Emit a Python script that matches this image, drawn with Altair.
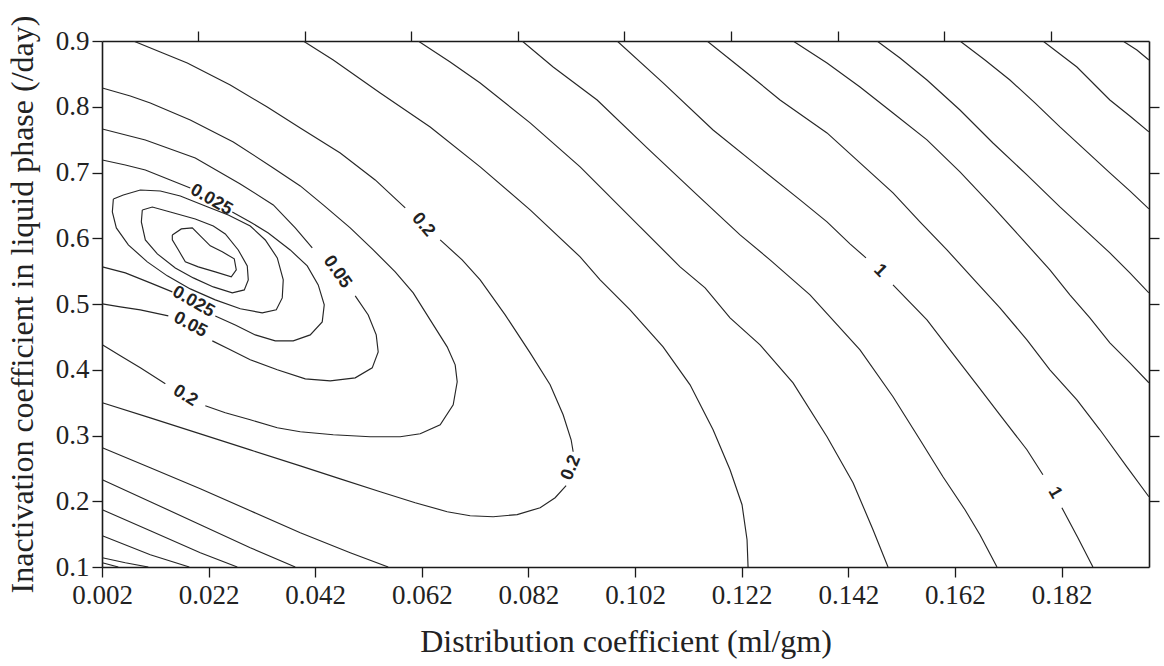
import altair as alt
import pandas as pd

# ---- contour polylines: [distribution coeff, inactivation coeff] ----
loop_1 = [[0.01519, 0.6051], [0.01688, 0.6142], [0.01894, 0.6158], [0.02063, 0.6021], [0.02231, 0.5884],
          [0.02456, 0.5793], [0.02681, 0.5687], [0.02719, 0.5519], [0.02625, 0.5413], [0.02325, 0.5489],
          [0.02006, 0.5565], [0.01763, 0.5641], [0.01631, 0.5824], [0.01519, 0.5976], [0.01519, 0.6051]]
loop_2 = [[0.00956, 0.6430], [0.01144, 0.6475], [0.01481, 0.6399], [0.0195, 0.6293], [0.02288, 0.6186],
          [0.02513, 0.6065], [0.02756, 0.5822], [0.02925, 0.5579], [0.02944, 0.5366], [0.02869, 0.5214],
          [0.02644, 0.5169], [0.02288, 0.5260], [0.01913, 0.5397], [0.01575, 0.5549], [0.01238, 0.5762],
          [0.01013, 0.5975], [0.00938, 0.6249], [0.00956, 0.6430]]
loop_3 = [[0.00413, 0.6597], [0.0060, 0.6658], [0.00919, 0.6734], [0.01294, 0.6719], [0.01669, 0.6643],
          [0.02138, 0.6491], [0.02569, 0.6354], [0.02981, 0.6187], [0.03263, 0.5974], [0.03488, 0.5701],
          [0.036, 0.5367], [0.03581, 0.5093], [0.03469, 0.4911], [0.03206, 0.4866], [0.02794, 0.4927],
          [0.02325, 0.5063], [0.01856, 0.5230], [0.01425, 0.5428], [0.0105, 0.5641], [0.00694, 0.5899],
          [0.00469, 0.6157], [0.00394, 0.6401], [0.00413, 0.6597]]

c0025_a = [[0.00206, 0.7190], [0.00638, 0.7114], [0.01013, 0.7038], [0.01481, 0.6886], [0.01856, 0.6764]]
c0025_b = [[0.02644, 0.6400], [0.02981, 0.6248], [0.03319, 0.6081], [0.03731, 0.5822], [0.0405, 0.5579],
           [0.04256, 0.5290], [0.04369, 0.4986], [0.04331, 0.4728], [0.04106, 0.4530], [0.03788, 0.4439],
           [0.0345, 0.4439], [0.03075, 0.4530], [0.027, 0.4682], [0.02325, 0.4819]]
c0025_c = [[0.01519, 0.5184], [0.01106, 0.5321], [0.00638, 0.5473], [0.00206, 0.5565]]

c005_a = [[0.00206, 0.7662], [0.01013, 0.7495], [0.0195, 0.7221], [0.02794, 0.6826], [0.03413, 0.6507],
          [0.03825, 0.6157], [0.04144, 0.5853]]
c005_b = [[0.0495, 0.5123], [0.05194, 0.4834], [0.05344, 0.4530], [0.05381, 0.4272], [0.05269, 0.4029],
          [0.0495, 0.3877], [0.04481, 0.3831], [0.04013, 0.3862], [0.03488, 0.3999], [0.02981, 0.4151],
          [0.02569, 0.4318], [0.02269, 0.4439]]
c005_c = [[0.01444, 0.4819], [0.00919, 0.4911], [0.00544, 0.4956], [0.00206, 0.5002]]

c01_a = [[0.00206, 0.8286], [0.00731, 0.8164], [0.01106, 0.8058], [0.01856, 0.7800], [0.02663, 0.7465],
         [0.03413, 0.7070], [0.03919, 0.6796], [0.0435, 0.6507], [0.04856, 0.6158], [0.05288, 0.5823],
         [0.057, 0.5488], [0.06038, 0.5169], [0.06356, 0.4758], [0.06675, 0.4348], [0.06825, 0.4074],
         [0.06863, 0.3817], [0.06788, 0.3467], [0.06544, 0.3163], [0.06169, 0.3026], [0.05794, 0.2981],
         [0.05231, 0.2981], [0.04538, 0.3011], [0.03919, 0.3057], [0.03488, 0.3118], [0.02981, 0.3239],
         [0.02513, 0.3346], [0.02138, 0.3452]]
c01_b = [[0.01388, 0.3787], [0.00919, 0.4030], [0.00544, 0.4212], [0.00206, 0.4380]]

c02_a = [[0.00788, 0.9000], [0.01294, 0.8833], [0.018, 0.8666], [0.02606, 0.8330], [0.033, 0.7996],
         [0.03919, 0.7677], [0.04669, 0.7297], [0.05325, 0.6887], [0.05888, 0.6461]]
c02_b = [[0.06544, 0.5975], [0.06956, 0.5671], [0.07294, 0.5367], [0.07763, 0.4835], [0.08231, 0.4257],
         [0.08606, 0.3771], [0.0885, 0.3315], [0.09, 0.2935], [0.09038, 0.2753]]
c02_c = [[0.08906, 0.2236], [0.087, 0.2054], [0.08419, 0.1902], [0.07988, 0.1796], [0.07538, 0.1765],
         [0.07106, 0.1780], [0.06675, 0.1841], [0.06075, 0.1978], [0.05419, 0.2145], [0.04669, 0.2340],
         [0.03919, 0.2538], [0.02981, 0.2781], [0.02044, 0.3025], [0.01106, 0.3268], [0.00206, 0.3497]]

r1 = [[0.03975, 0.9000], [0.04538, 0.8711], [0.05419, 0.8210], [0.06356, 0.7693], [0.07294, 0.7085],
      [0.08231, 0.6431], [0.09169, 0.5717], [0.09544, 0.5367], [0.10106, 0.4911], [0.10725, 0.4348],
      [0.11231, 0.3771], [0.11663, 0.3087], [0.11981, 0.2479], [0.12206, 0.1947], [0.123, 0.1415],
      [0.12319, 0.1000]]
r2 = [[0.06131, 0.9000], [0.06731, 0.8681], [0.07294, 0.8362], [0.08231, 0.7754], [0.09169, 0.7085],
      [0.10106, 0.6325], [0.11044, 0.5565], [0.11513, 0.5246], [0.11981, 0.4790], [0.12544, 0.4379],
      [0.13163, 0.3801], [0.138, 0.2981], [0.14288, 0.2282], [0.14663, 0.1567], [0.14944, 0.1000]]
r3 = [[0.08081, 0.9000], [0.08663, 0.8605], [0.09488, 0.8103], [0.10425, 0.7374], [0.11363, 0.6659],
      [0.12169, 0.6051], [0.12731, 0.5671], [0.13481, 0.5139], [0.14419, 0.4303], [0.15038, 0.3589],
      [0.15544, 0.2935], [0.15975, 0.2373], [0.16388, 0.1871], [0.16669, 0.1491], [0.16988, 0.1000]]
c1_a = [[0.09863, 0.9000], [0.10725, 0.8362], [0.11663, 0.7647], [0.12544, 0.7070], [0.13294, 0.6583],
        [0.138, 0.6249], [0.14231, 0.5915], [0.14531, 0.5702]]
c1_b = [[0.15038, 0.5291], [0.15675, 0.4759], [0.16106, 0.4303], [0.16613, 0.3771], [0.17044, 0.3315],
        [0.1755, 0.2783], [0.1785, 0.2403]]
c1_c = [[0.18206, 0.1901], [0.18506, 0.1445], [0.18788, 0.1000]]
r5 = [[0.1155, 0.9000], [0.123, 0.8514], [0.12919, 0.8103], [0.138, 0.7602], [0.14419, 0.7146],
      [0.15038, 0.6690], [0.15544, 0.6249], [0.1605, 0.5823], [0.16613, 0.5321], [0.17044, 0.4941],
      [0.1755, 0.4455], [0.17981, 0.3999], [0.18488, 0.3543], [0.18919, 0.3087], [0.19425, 0.2524],
      [0.19838, 0.2068]]
r6 = [[0.13163, 0.9000], [0.138, 0.8666], [0.14419, 0.8301], [0.15038, 0.7906], [0.15675, 0.7496],
      [0.16294, 0.7009], [0.16913, 0.6477], [0.17475, 0.5975], [0.17981, 0.5519], [0.18356, 0.5139],
      [0.18731, 0.4789], [0.19106, 0.4409], [0.19481, 0.4105], [0.19838, 0.3801]]
r7 = [[0.14738, 0.9000], [0.15169, 0.8742], [0.15675, 0.8407], [0.16294, 0.7951], [0.16913, 0.7449],
      [0.1755, 0.6963], [0.18169, 0.6477], [0.18638, 0.6127], [0.19106, 0.5777], [0.19481, 0.5473],
      [0.19838, 0.5169]]
r8 = [[0.16294, 0.9000], [0.16763, 0.8711], [0.17231, 0.8407], [0.177, 0.8058], [0.18169, 0.7693],
      [0.18638, 0.7344], [0.19106, 0.6994], [0.19481, 0.6720], [0.19838, 0.6447]]
r9 = [[0.1785, 0.9000], [0.18488, 0.8605], [0.19106, 0.8103], [0.19481, 0.7860], [0.19838, 0.7617]]
r10 = [[0.1935, 0.9000], [0.19613, 0.8863], [0.19838, 0.8711]]

ll1 = [[0.00206, 0.2813], [0.01106, 0.2509], [0.02044, 0.2190], [0.02981, 0.1856], [0.03919, 0.1521],
       [0.04856, 0.1217], [0.05569, 0.1000]]
ll2 = [[0.00206, 0.2327], [0.01106, 0.1993], [0.02044, 0.1643], [0.02981, 0.1293], [0.03825, 0.1000]]
ll3 = [[0.00206, 0.1871], [0.01106, 0.1552], [0.02044, 0.1217], [0.02738, 0.1000]]
ll4 = [[0.00206, 0.1476], [0.01106, 0.1187], [0.01838, 0.1000]]
ll5 = [[0.00206, 0.1141], [0.00638, 0.1065], [0.01069, 0.1000]]
ll6 = [[0.00206, 0.1065], [0.00506, 0.1000]]

# contour labels: text, x, y, rotation
label_text = ["0.025", "0.025", "0.05", "0.05", "0.2", "0.2", "0.2", "1", "1"]
label_x = [0.0225, 0.01913, 0.04613, 0.01856, 0.06225, 0.0900, 0.01763, 0.14794, 0.18075]
label_y = [0.6582, 0.5032, 0.5488, 0.4682, 0.6203, 0.2510, 0.3604, 0.5504, 0.2129]
label_angle = [30, 30, 55, 28, 50, 292, 32, 45, 60]

# axis ticks
x_ticks = [0.002, 0.022, 0.042, 0.062, 0.082, 0.102, 0.122, 0.142, 0.162, 0.182]
x_top_ticks = [0.02, 0.04, 0.06, 0.08, 0.10, 0.12, 0.14, 0.16, 0.18]
y_ticks = [0.1, 0.2, 0.3, 0.4, 0.5, 0.6, 0.7, 0.8, 0.9]
y_right_ticks = [0.2, 0.3, 0.4, 0.5, 0.6, 0.7, 0.8]

segments = {
    "loop_1": loop_1, "loop_2": loop_2, "loop_3": loop_3,
    "c0025_a": c0025_a, "c0025_b": c0025_b, "c0025_c": c0025_c,
    "c005_a": c005_a, "c005_b": c005_b, "c005_c": c005_c,
    "c01_a": c01_a, "c01_b": c01_b,
    "c02_a": c02_a, "c02_b": c02_b, "c02_c": c02_c,
    "r1": r1, "r2": r2, "r3": r3, "c1_a": c1_a, "c1_b": c1_b, "c1_c": c1_c,
    "r5": r5, "r6": r6, "r7": r7, "r8": r8, "r9": r9, "r10": r10,
    "ll1": ll1, "ll2": ll2, "ll3": ll3, "ll4": ll4, "ll5": ll5, "ll6": ll6,
}
rows = []
for name, pts in segments.items():
    for i, (xv, yv) in enumerate(pts):
        rows.append({"seg": name, "i": i, "x": xv, "y": yv})
lines_df = pd.DataFrame(rows)
labels_df = pd.DataFrame({"text": label_text, "x": label_x, "y": label_y, "angle": label_angle})

xscale = alt.Scale(domain=[0.002, 0.1984], nice=False, zero=False)
yscale = alt.Scale(domain=[0.1, 0.9], nice=False, zero=False)

serif = "Liberation Serif"

lines = alt.Chart(lines_df).mark_line(color="#262626", strokeWidth=1.15, clip=True).encode(
    x=alt.X("x:Q", scale=xscale,
            axis=alt.Axis(orient="bottom", values=x_ticks, format=".3f", grid=False,
                          title="Distribution coefficient (ml/gm)",
                          titleX=523.5, titleY=84, titleBaseline="alphabetic", titleAlign="center")),
    y=alt.Y("y:Q", scale=yscale,
            axis=alt.Axis(orient="left", values=y_ticks, format=".1f", grid=False,
                          title="Inactivation coefficient in liquid phase (/day)",
                          titleX=-70, titleY=263, titleAngle=270, titleBaseline="alphabetic",
                          titleAlign="center")),
    detail="seg:N",
    order="i:Q",
)

texts = alt.Chart(labels_df).mark_text(
    font="Liberation Sans", fontWeight="bold", fontSize=18, color="#222222",
    align="center", baseline="middle"
).encode(
    x=alt.X("x:Q", scale=xscale,
            axis=alt.Axis(orient="top", values=x_top_ticks, labels=False, title=None, grid=False)),
    y=alt.Y("y:Q", scale=yscale,
            axis=alt.Axis(orient="right", values=y_right_ticks, labels=False, title=None, grid=False)),
    text="text:N",
    angle=alt.Angle("angle:Q", scale=None),
)

chart = alt.layer(lines, texts).resolve_axis(x="independent", y="independent").properties(
    width=1047, height=526,
    autosize=alt.AutoSizeParams(type="none"),
    padding={"left": 102, "top": 41, "right": 15, "bottom": 99},
    background="white",
).configure_view(stroke=None).configure_axis(
    domainColor="#1a1a1a", domainWidth=1.6, tickColor="#1a1a1a", tickWidth=1.3, tickSize=10,
    labelFont=serif, labelFontSize=27, labelColor="#222222", labelPadding=3, labelFlush=False,
    labelOverlap=False,
    titleFont=serif, titleFontSize=32, titleFontWeight="normal", titleColor="#222222",
).configure_axisBottom(labelPadding=5)

chart.save("out.html", embed_options={"renderer": "svg", "actions": False})
